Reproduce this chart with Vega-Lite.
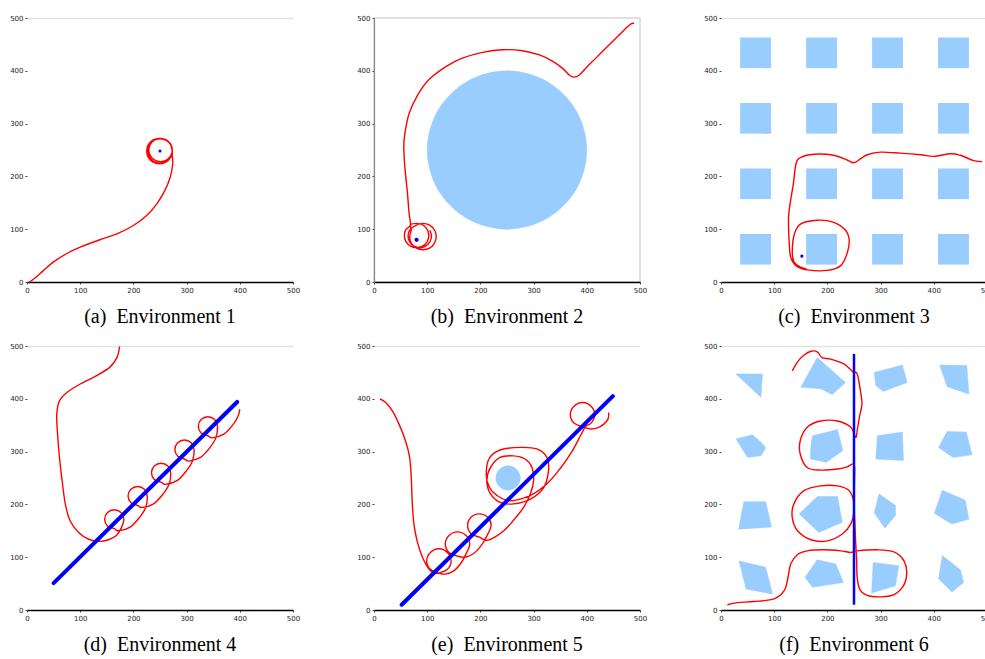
{
"$schema":"https://vega.github.io/schema/vega-lite/v6.json",
"background":"white",
"padding":{"left":9,"top":13,"right":0,"bottom":0},
"bounds":"flush",
"columns":3,
"spacing":{"row":64,"column":81},
"datasets":{
"pa":[{"x":5,"y":0},{"x":18,"y":10},{"x":31,"y":22},{"x":50,"y":38},{"x":75,"y":54},{"x":100,"y":66},{"x":137,"y":80},{"x":169,"y":91},{"x":200,"y":107},{"x":225,"y":126},{"x":244,"y":148},{"x":259,"y":173},{"x":269,"y":198},{"x":274,"y":224},{"x":273,"y":240},{"x":273,"y":248},{"x":270,"y":260},{"x":262,"y":268},{"x":250,"y":271},{"x":238,"y":268},{"x":230,"y":260},{"x":227,"y":248},{"x":230,"y":237},{"x":238,"y":228},{"x":250,"y":225},{"x":262,"y":228},{"x":270,"y":237},{"x":273,"y":250},{"x":270,"y":261},{"x":262,"y":269},{"x":251,"y":272},{"x":240,"y":269},{"x":232,"y":261},{"x":229,"y":250},{"x":232,"y":239},{"x":240,"y":231},{"x":251,"y":228},{"x":262,"y":231},{"x":270,"y":239},{"x":273,"y":248},{"x":270,"y":260},{"x":261,"y":269},{"x":249,"y":272},{"x":237,"y":269},{"x":228,"y":260},{"x":225,"y":248},{"x":228,"y":236},{"x":237,"y":227},{"x":249,"y":224},{"x":261,"y":227},{"x":270,"y":236},{"x":272,"y":244}],
"ga":[{"x":250,"y":248}],
"pb":[{"x":489,"y":490},{"x":483,"y":489},{"x":474,"y":481},{"x":455,"y":462},{"x":436,"y":443},{"x":417,"y":424},{"x":398,"y":405},{"x":386,"y":392},{"x":376,"y":388},{"x":367,"y":392},{"x":354,"y":405},{"x":336,"y":418},{"x":311,"y":430},{"x":279,"y":438},{"x":242,"y":440},{"x":204,"y":435},{"x":166,"y":424},{"x":135,"y":408},{"x":103,"y":383},{"x":82,"y":354},{"x":66,"y":319},{"x":58,"y":281},{"x":56,"y":256},{"x":58,"y":218},{"x":63,"y":167},{"x":66,"y":129},{"x":68.5,"y":108},{"x":60,"y":99.5},{"x":57,"y":88},{"x":60,"y":76.5},{"x":68.5,"y":68},{"x":80,"y":65},{"x":91.5,"y":68},{"x":100,"y":76.5},{"x":103,"y":88},{"x":100,"y":99.5},{"x":91.5,"y":108},{"x":80,"y":111},{"x":68.5,"y":108},{"x":70,"y":98.5},{"x":67,"y":86},{"x":70,"y":73.5},{"x":79.5,"y":64},{"x":92,"y":61},{"x":104.5,"y":64},{"x":113.7,"y":73.5},{"x":117,"y":86},{"x":113.7,"y":98.5},{"x":104.5,"y":107.7},{"x":92,"y":111},{"x":79.5,"y":107.7},{"x":67,"y":98},{"x":64,"y":87},{"x":67,"y":76},{"x":75,"y":68},{"x":86,"y":65},{"x":97,"y":68},{"x":105,"y":76},{"x":108,"y":87},{"x":105,"y":98}],
"ob":[{"x":400,"y":250},{"x":379.9,"y":325},{"x":325,"y":379.9},{"x":250,"y":400},{"x":175,"y":379.9},{"x":120.1,"y":325},{"x":100,"y":250},{"x":120.1,"y":175},{"x":175,"y":120.1},{"x":250,"y":100},{"x":325,"y":120.1},{"x":379.9,"y":175}],
"gb":[{"x":80,"y":80}],
"pc":[{"x":491,"y":228},{"x":475,"y":230},{"x":450,"y":240},{"x":431,"y":243},{"x":400,"y":238},{"x":375,"y":241},{"x":337,"y":244},{"x":300,"y":246},{"x":275,"y":241},{"x":262,"y":233},{"x":250,"y":226},{"x":237,"y":231},{"x":212,"y":240},{"x":175,"y":242},{"x":150,"y":236},{"x":141,"y":224},{"x":136,"y":186},{"x":131,"y":155},{"x":127,"y":123},{"x":128,"y":79},{"x":131,"y":47},{"x":141,"y":31},{"x":162,"y":23},{"x":200,"y":22},{"x":225,"y":31},{"x":237,"y":54},{"x":241,"y":79},{"x":234,"y":98},{"x":212,"y":113},{"x":181,"y":117},{"x":150,"y":110},{"x":138,"y":91},{"x":134,"y":60},{"x":137,"y":38},{"x":150,"y":28},{"x":160,"y":25}],
"oc":[{"x":36,"x2":94,"y":33,"y2":91},{"x":160,"x2":218,"y":33,"y2":91},{"x":284,"x2":342,"y":33,"y2":91},{"x":408,"x2":466,"y":33,"y2":91},{"x":36,"x2":94,"y":157,"y2":215},{"x":160,"x2":218,"y":157,"y2":215},{"x":284,"x2":342,"y":157,"y2":215},{"x":408,"x2":466,"y":157,"y2":215},{"x":36,"x2":94,"y":281,"y2":339},{"x":160,"x2":218,"y":281,"y2":339},{"x":284,"x2":342,"y":281,"y2":339},{"x":408,"x2":466,"y":281,"y2":339},{"x":36,"x2":94,"y":405,"y2":463},{"x":160,"x2":218,"y":405,"y2":463},{"x":284,"x2":342,"y":405,"y2":463},{"x":408,"x2":466,"y":405,"y2":463}],
"gc":[{"x":152,"y":49}],
"pd":[{"x":174,"y":499},{"x":169,"y":478},{"x":156,"y":460},{"x":131,"y":444},{"x":100,"y":428},{"x":75,"y":412},{"x":61,"y":396},{"x":56,"y":371},{"x":57,"y":340},{"x":61,"y":289},{"x":66,"y":245},{"x":72,"y":201},{"x":81,"y":169},{"x":97,"y":147},{"x":116,"y":134},{"x":134,"y":130},{"x":153,"y":133},{"x":168,"y":141},{"x":177,"y":155},{"x":182,"y":172},{"x":176.7,"y":184.7},{"x":164,"y":190},{"x":151.3,"y":184.7},{"x":146,"y":172},{"x":151.3,"y":159.3},{"x":164,"y":154},{"x":172,"y":150},{"x":194,"y":157},{"x":212,"y":176},{"x":223,"y":194},{"x":226,"y":216},{"x":220.7,"y":228.7},{"x":208,"y":234},{"x":195.3,"y":228.7},{"x":190,"y":216},{"x":195.3,"y":203.3},{"x":208,"y":198},{"x":216,"y":194},{"x":238,"y":201},{"x":256,"y":220},{"x":267,"y":238},{"x":270,"y":260},{"x":264.7,"y":272.7},{"x":252,"y":278},{"x":239.3,"y":272.7},{"x":234,"y":260},{"x":239.3,"y":247.3},{"x":252,"y":242},{"x":260,"y":238},{"x":282,"y":245},{"x":300,"y":264},{"x":311,"y":282},{"x":314,"y":304},{"x":308.7,"y":316.7},{"x":296,"y":322},{"x":283.3,"y":316.7},{"x":278,"y":304},{"x":283.3,"y":291.3},{"x":296,"y":286},{"x":304,"y":282},{"x":326,"y":289},{"x":344,"y":308},{"x":355,"y":326},{"x":358,"y":348},{"x":352.7,"y":360.7},{"x":340,"y":366},{"x":327.3,"y":360.7},{"x":322,"y":348},{"x":327.3,"y":335.3},{"x":340,"y":330},{"x":348,"y":326},{"x":370,"y":333},{"x":388,"y":352},{"x":397,"y":368},{"x":400,"y":380}],
"bd":[{"x":50,"y":51},{"x":395,"y":394}],
"pe":[{"x":11,"y":400},{"x":22,"y":393},{"x":34,"y":378},{"x":47,"y":352},{"x":59,"y":321},{"x":67,"y":289},{"x":70,"y":251},{"x":72,"y":201},{"x":75,"y":163},{"x":81,"y":131},{"x":91,"y":100},{"x":103,"y":78},{"x":113,"y":70},{"x":122,"y":70},{"x":138,"y":77},{"x":145,"y":93},{"x":138,"y":109},{"x":122,"y":116},{"x":106,"y":109},{"x":99,"y":93},{"x":106,"y":77},{"x":122,"y":70},{"x":134,"y":68},{"x":150,"y":74},{"x":163,"y":88},{"x":172,"y":104},{"x":180,"y":125},{"x":173,"y":141},{"x":157,"y":148},{"x":141,"y":141},{"x":134,"y":125},{"x":141,"y":109},{"x":157,"y":102},{"x":170,"y":100},{"x":186,"y":106},{"x":200,"y":120},{"x":212,"y":140},{"x":220,"y":160},{"x":213.6,"y":175.6},{"x":198,"y":182},{"x":182.4,"y":175.6},{"x":176,"y":160},{"x":182.4,"y":144.4},{"x":198,"y":138},{"x":212,"y":132},{"x":230,"y":140},{"x":244,"y":150},{"x":259,"y":166},{"x":281,"y":194},{"x":294,"y":220},{"x":300,"y":245},{"x":297,"y":270},{"x":284,"y":286},{"x":262,"y":292},{"x":237,"y":289},{"x":219,"y":270},{"x":212,"y":245},{"x":219,"y":220},{"x":237,"y":204},{"x":262,"y":201},{"x":294,"y":210},{"x":319,"y":232},{"x":328,"y":264},{"x":325,"y":289},{"x":306,"y":305},{"x":275,"y":308},{"x":237,"y":303},{"x":216,"y":286},{"x":211,"y":255},{"x":217,"y":232},{"x":231,"y":217},{"x":256,"y":207},{"x":294,"y":217},{"x":325,"y":239},{"x":350,"y":268},{"x":372,"y":300},{"x":388,"y":330},{"x":398,"y":348},{"x":408,"y":354},{"x":415,"y":370},{"x":408,"y":386},{"x":392,"y":393},{"x":376,"y":386},{"x":369,"y":370},{"x":376,"y":354},{"x":392,"y":347},{"x":406,"y":343},{"x":420,"y":345},{"x":432,"y":352},{"x":440,"y":362},{"x":441,"y":374}],
"oe":[{"x":275,"y":250},{"x":271.9,"y":261.5},{"x":263.5,"y":269.9},{"x":252,"y":273},{"x":240.5,"y":269.9},{"x":232.1,"y":261.5},{"x":229,"y":250},{"x":232.1,"y":238.5},{"x":240.5,"y":230.1},{"x":252,"y":227},{"x":263.5,"y":230.1},{"x":271.9,"y":238.5}],
"be":[{"x":52,"y":10},{"x":449,"y":405}],
"pf":[{"x":12,"y":10},{"x":31,"y":14},{"x":62,"y":16},{"x":100,"y":21},{"x":119,"y":37},{"x":126,"y":62},{"x":131,"y":87},{"x":144,"y":105},{"x":162,"y":112},{"x":194,"y":114},{"x":225,"y":112},{"x":244,"y":109},{"x":256,"y":112},{"x":294,"y":114},{"x":325,"y":110},{"x":344,"y":93},{"x":349,"y":68},{"x":341,"y":43},{"x":319,"y":27},{"x":281,"y":26},{"x":262,"y":37},{"x":256,"y":62},{"x":255,"y":93},{"x":253,"y":131},{"x":251,"y":175},{"x":249,"y":207},{"x":241,"y":226},{"x":219,"y":235},{"x":187,"y":235},{"x":156,"y":226},{"x":137,"y":201},{"x":134,"y":175},{"x":144,"y":150},{"x":169,"y":133},{"x":200,"y":131},{"x":228,"y":144},{"x":244,"y":163},{"x":250,"y":188},{"x":250,"y":220},{"x":251,"y":251},{"x":250,"y":276},{"x":237,"y":271},{"x":219,"y":267},{"x":187,"y":265},{"x":162,"y":270},{"x":149,"y":295},{"x":149,"y":321},{"x":162,"y":346},{"x":187,"y":358},{"x":219,"y":358},{"x":244,"y":346},{"x":253,"y":327},{"x":256,"y":340},{"x":260,"y":365},{"x":265,"y":390},{"x":262,"y":415},{"x":256,"y":447},{"x":247,"y":452},{"x":231,"y":466},{"x":206,"y":475},{"x":190,"y":478},{"x":181,"y":489},{"x":169,"y":490},{"x":155,"y":482},{"x":144,"y":470},{"x":134,"y":453}],
"of":[{"id":1,"x":28,"y":447},{"id":1,"x":78,"y":447},{"id":1,"x":75,"y":403},
{"id":2,"x":181,"y":478},{"id":2,"x":234,"y":431},{"id":2,"x":209,"y":408},{"id":2,"x":188,"y":419},{"id":2,"x":150,"y":422},
{"id":3,"x":288,"y":450},{"id":3,"x":341,"y":464},{"id":3,"x":350,"y":431},{"id":3,"x":305,"y":414},{"id":3,"x":291,"y":425},
{"id":4,"x":411,"y":464},{"id":4,"x":462,"y":463},{"id":4,"x":466,"y":409},{"id":4,"x":425,"y":423},
{"id":5,"x":28,"y":324},{"id":5,"x":59,"y":332},{"id":5,"x":75,"y":318},{"id":5,"x":84,"y":307},{"id":5,"x":75,"y":292},{"id":5,"x":50,"y":289},
{"id":6,"x":172,"y":330},{"id":6,"x":219,"y":342},{"id":6,"x":229,"y":302},{"id":6,"x":198,"y":280},{"id":6,"x":168,"y":286},{"id":6,"x":169,"y":311},
{"id":7,"x":294,"y":330},{"id":7,"x":341,"y":337},{"id":7,"x":343,"y":283},{"id":7,"x":291,"y":286},
{"id":8,"x":409,"y":308},{"id":8,"x":425,"y":338},{"id":8,"x":461,"y":337},{"id":8,"x":472,"y":294},{"id":8,"x":436,"y":289},
{"id":9,"x":43,"y":205},{"id":9,"x":84,"y":205},{"id":9,"x":95,"y":157},{"id":9,"x":33,"y":153},
{"id":10,"x":147,"y":182},{"id":10,"x":181,"y":215},{"id":10,"x":219,"y":215},{"id":10,"x":228,"y":166},{"id":10,"x":184,"y":147},
{"id":11,"x":288,"y":184},{"id":11,"x":297,"y":220},{"id":11,"x":328,"y":198},{"id":11,"x":328,"y":179},{"id":11,"x":308,"y":155},
{"id":12,"x":401,"y":183},{"id":12,"x":416,"y":227},{"id":12,"x":459,"y":208},{"id":12,"x":466,"y":172},{"id":12,"x":434,"y":163},
{"id":13,"x":34,"y":93},{"id":13,"x":84,"y":81},{"id":13,"x":97,"y":30},{"id":13,"x":47,"y":40},
{"id":14,"x":158,"y":62},{"id":14,"x":181,"y":95},{"id":14,"x":216,"y":87},{"id":14,"x":230,"y":52},{"id":14,"x":172,"y":43},
{"id":15,"x":286,"y":90},{"id":15,"x":334,"y":84},{"id":15,"x":328,"y":46},{"id":15,"x":283,"y":32},
{"id":16,"x":416,"y":103},{"id":16,"x":450,"y":76},{"id":16,"x":456,"y":52},{"id":16,"x":434,"y":34},{"id":16,"x":409,"y":59}],
"bf":[{"x":250,"y":10},{"x":250,"y":485}]
},
"concat":[
{"width":266,"height":264,"title":{"text":"(a)\u00a0\u00a0Environment 1","orient":"bottom"},
"layer":[
{"data":{"name":"pa"},"mark":{"type":"line","color":"#ff0000","strokeWidth":1.4,"interpolate":"cardinal"},
"encoding":{"x":{"field":"x","type":"quantitative","scale":{"domain":[0,500],"nice":false},"axis":{"tickCount":5}},
"y":{"field":"y","type":"quantitative","scale":{"domain":[0,500],"nice":false},"axis":{"tickCount":5,"grid":true,"gridOpacity":{"condition":{"test":"datum.value === 500","value":1},"value":0}}},
"order":{"value":null}}},
{"data":{"name":"ga"},"mark":{"type":"point","shape":"square","filled":true,"color":"#0000ff","size":7,"opacity":1},
"encoding":{"x":{"field":"x","type":"quantitative","scale":{"domain":[0,500],"nice":false}},"y":{"field":"y","type":"quantitative","scale":{"domain":[0,500],"nice":false}}}}
]},
{"width":266,"height":264,"title":{"text":"(b)\u00a0\u00a0Environment 2","orient":"bottom"},"view":{"stroke":"#d8d8d8","strokeWidth":1.5},
"layer":[
{"data":{"name":"ob"},"mark":{"type":"line","fill":"#99ccff","stroke":"#99ccff","strokeWidth":0.5,"interpolate":"cardinal-closed"},
"encoding":{"x":{"field":"x","type":"quantitative","scale":{"domain":[0,500],"nice":false},"axis":{"tickCount":5}},
"y":{"field":"y","type":"quantitative","scale":{"domain":[0,500],"nice":false},"axis":{"tickCount":5,"domain":true,"domainColor":"#888","domainWidth":1.2}},
"order":{"value":null}}},
{"data":{"name":"pb"},"mark":{"type":"line","color":"#ff0000","strokeWidth":1.4,"interpolate":"cardinal"},
"encoding":{"x":{"field":"x","type":"quantitative","scale":{"domain":[0,500],"nice":false}},"y":{"field":"y","type":"quantitative","scale":{"domain":[0,500],"nice":false}},"order":{"value":null}}},
{"data":{"name":"gb"},"mark":{"type":"point","shape":"circle","filled":true,"color":"#0000ff","size":18,"opacity":1},
"encoding":{"x":{"field":"x","type":"quantitative","scale":{"domain":[0,500],"nice":false}},"y":{"field":"y","type":"quantitative","scale":{"domain":[0,500],"nice":false}}}}
]},
{"width":266,"height":264,"title":{"text":"(c)\u00a0\u00a0Environment 3","orient":"bottom"},
"layer":[
{"data":{"name":"oc"},"mark":{"type":"rect","color":"#99ccff","opacity":1},
"encoding":{"x":{"field":"x","type":"quantitative","scale":{"domain":[0,500],"nice":false},"axis":{"tickCount":5}},"x2":{"field":"x2"},
"y":{"field":"y","type":"quantitative","scale":{"domain":[0,500],"nice":false},"axis":{"tickCount":5,"grid":true,"gridOpacity":{"condition":{"test":"datum.value === 500","value":1},"value":0}}},"y2":{"field":"y2"}}},
{"data":{"name":"pc"},"mark":{"type":"line","color":"#ff0000","strokeWidth":1.4,"interpolate":"cardinal"},
"encoding":{"x":{"field":"x","type":"quantitative","scale":{"domain":[0,500],"nice":false}},"y":{"field":"y","type":"quantitative","scale":{"domain":[0,500],"nice":false}},"order":{"value":null}}},
{"data":{"name":"gc"},"mark":{"type":"point","shape":"square","filled":true,"color":"#0000ff","size":8,"opacity":1},
"encoding":{"x":{"field":"x","type":"quantitative","scale":{"domain":[0,500],"nice":false}},"y":{"field":"y","type":"quantitative","scale":{"domain":[0,500],"nice":false}}}}
]},
{"width":266,"height":264,"title":{"text":"(d)\u00a0\u00a0Environment 4","orient":"bottom"},
"layer":[
{"data":{"name":"pd"},"mark":{"type":"line","color":"#ff0000","strokeWidth":1.4,"interpolate":"cardinal"},
"encoding":{"x":{"field":"x","type":"quantitative","scale":{"domain":[0,500],"nice":false},"axis":{"tickCount":5}},
"y":{"field":"y","type":"quantitative","scale":{"domain":[0,500],"nice":false},"axis":{"tickCount":5,"grid":true,"gridOpacity":{"condition":{"test":"datum.value === 500","value":1},"value":0}}},
"order":{"value":null}}},
{"data":{"name":"bd"},"mark":{"type":"line","color":"#0000ff","strokeWidth":4,"strokeCap":"round"},
"encoding":{"x":{"field":"x","type":"quantitative","scale":{"domain":[0,500],"nice":false}},"y":{"field":"y","type":"quantitative","scale":{"domain":[0,500],"nice":false}}}}
]},
{"width":266,"height":264,"title":{"text":"(e)\u00a0\u00a0Environment 5","orient":"bottom"},
"layer":[
{"data":{"name":"oe"},"mark":{"type":"line","fill":"#99ccff","stroke":"#99ccff","strokeWidth":0.5,"interpolate":"cardinal-closed"},
"encoding":{"x":{"field":"x","type":"quantitative","scale":{"domain":[0,500],"nice":false},"axis":{"tickCount":5}},
"y":{"field":"y","type":"quantitative","scale":{"domain":[0,500],"nice":false},"axis":{"tickCount":5,"grid":true,"gridOpacity":{"condition":{"test":"datum.value === 500","value":1},"value":0}}},
"order":{"value":null}}},
{"data":{"name":"pe"},"mark":{"type":"line","color":"#ff0000","strokeWidth":1.4,"interpolate":"cardinal"},
"encoding":{"x":{"field":"x","type":"quantitative","scale":{"domain":[0,500],"nice":false}},"y":{"field":"y","type":"quantitative","scale":{"domain":[0,500],"nice":false}},"order":{"value":null}}},
{"data":{"name":"be"},"mark":{"type":"line","color":"#0000ff","strokeWidth":4,"strokeCap":"round"},
"encoding":{"x":{"field":"x","type":"quantitative","scale":{"domain":[0,500],"nice":false}},"y":{"field":"y","type":"quantitative","scale":{"domain":[0,500],"nice":false}}}}
]},
{"width":266,"height":264,"title":{"text":"(f)\u00a0\u00a0Environment 6","orient":"bottom"},
"layer":[
{"data":{"name":"of"},"mark":{"type":"line","fill":"#99ccff","stroke":"#99ccff","strokeWidth":0.5,"interpolate":"linear-closed"},
"encoding":{"x":{"field":"x","type":"quantitative","scale":{"domain":[0,500],"nice":false},"axis":{"tickCount":5}},
"y":{"field":"y","type":"quantitative","scale":{"domain":[0,500],"nice":false},"axis":{"tickCount":5,"grid":true,"gridOpacity":{"condition":{"test":"datum.value === 500","value":1},"value":0}}},
"detail":{"field":"id","type":"nominal"},"order":{"value":null}}},
{"data":{"name":"pf"},"mark":{"type":"line","color":"#ff0000","strokeWidth":1.4,"interpolate":"cardinal"},
"encoding":{"x":{"field":"x","type":"quantitative","scale":{"domain":[0,500],"nice":false}},"y":{"field":"y","type":"quantitative","scale":{"domain":[0,500],"nice":false}},"order":{"value":null}}},
{"data":{"name":"bf"},"mark":{"type":"line","color":"#0000ff","strokeWidth":2.5},
"encoding":{"x":{"field":"x","type":"quantitative","scale":{"domain":[0,500],"nice":false}},"y":{"field":"y","type":"quantitative","scale":{"domain":[0,500],"nice":false}}}}
]}
],
"config":{
"view":{"stroke":null},
"axis":{"title":null,"labelFont":"DejaVu Sans","labelFontSize":7,"labelColor":"#222","tickColor":"#444","tickSize":2,"tickWidth":1,"labelPadding":2,"grid":false,"labelFlush":false,"labelOverlap":false},
"axisX":{"domainColor":"#000","domainWidth":1.5},
"axisY":{"domain":false,"gridColor":"#e2e2e2","gridWidth":1.5},
"title":{"font":"Liberation Serif","fontSize":20,"fontWeight":"normal","color":"#000","offset":14}
}
}
